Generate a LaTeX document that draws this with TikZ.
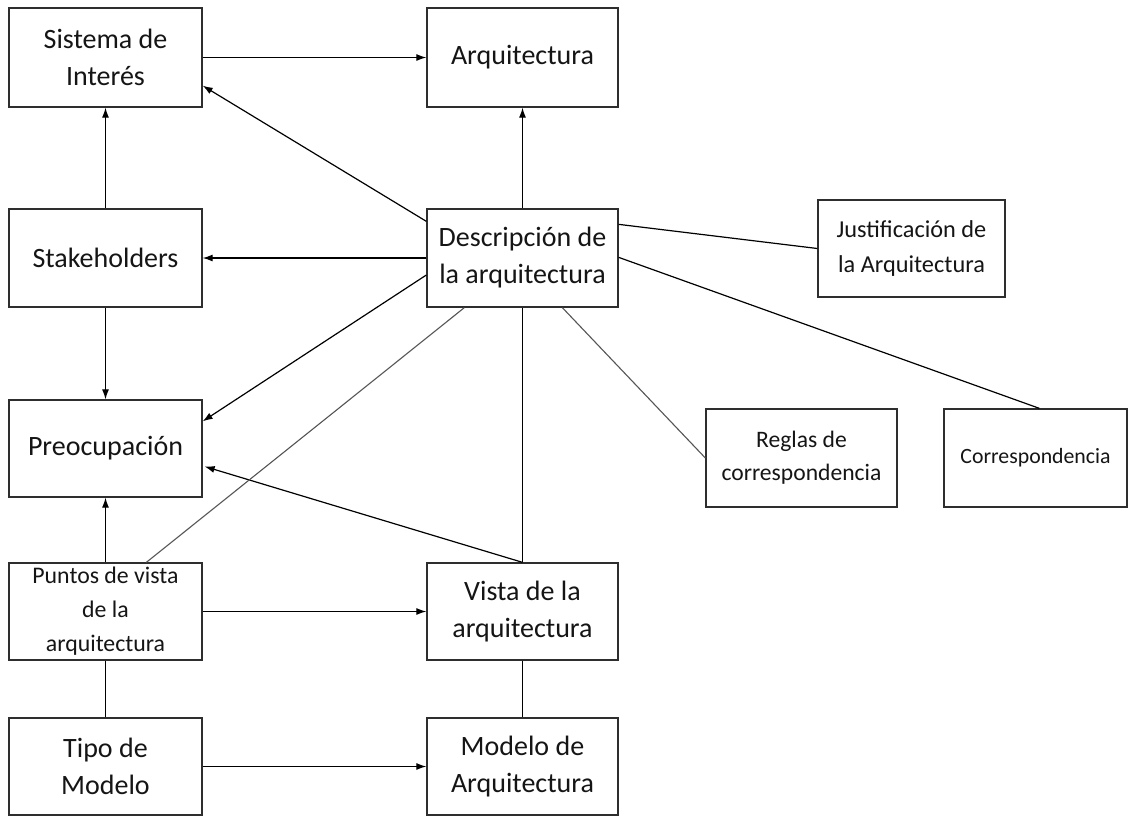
\documentclass[tikz,border=0pt]{standalone}
\usepackage{fontspec}
\setmainfont{Carlito}
\usetikzlibrary{arrows.meta,calc}
\definecolor{ink}{HTML}{151515}
\definecolor{edge}{HTML}{2E2E2E}
\definecolor{thin}{HTML}{555555}
\begin{document}
\begin{tikzpicture}[x=1pt,y=-1pt,
  box/.style={draw=edge,line width=1.3pt,rectangle,inner sep=0pt,align=center,
    text=ink,font=\fontsize{28}{37}\selectfont},
  smallbox/.style={box,font=\fontsize{23.8}{34}\selectfont},
  arr/.style={line width=1.2pt,-{Latex[length=10pt,width=7pt]}},
  link/.style={line width=1.2pt},
  faint/.style={line width=1.1pt,draw=thin}]
\useasboundingbox[fill=white] (0,0) rectangle (1128,817);

% boxes
\node[box,minimum width=193pt,minimum height=99pt] (sis) at (105.5,57.5) {Sistema de\\Interés};
\node[box,minimum width=191pt,minimum height=99pt] (arq) at (522.5,57.5) {Arquitectura};
\node[box,minimum width=193pt,minimum height=98pt] (stk) at (105.5,258) {Stakeholders};
\node[box,minimum width=191pt,minimum height=98pt] (desc) at (522.5,258) {Descripción de\\la arquitectura};
\node[smallbox,minimum width=187pt,minimum height=97pt,font=\fontsize{24.3}{35}\selectfont] (just) at (911.5,248.5) {Justificación de\\la Arquitectura};
\node[box,minimum width=193pt,minimum height=97pt] (pre) at (105.5,448.5) {Preocupación};
\node[smallbox,minimum width=191pt,minimum height=98pt,font=\fontsize{23.6}{33}\selectfont] (reg) at (801.5,458) {Reglas de\\correspondencia};
\node[smallbox,minimum width=183pt,minimum height=98pt,font=\fontsize{21.8}{30}\selectfont] (corr) at (1035.5,458) {Correspondencia};
\node[smallbox,minimum width=193pt,minimum height=97pt] (pun) at (105.5,611.5) {Puntos de vista\\de la\\arquitectura};
\node[box,minimum width=191pt,minimum height=97pt] (vis) at (522.5,611.5) {Vista de la\\arquitectura};
\node[box,minimum width=193pt,minimum height=97pt] (tipo) at (105.5,766.5) {Tipo de\\Modelo};
\node[box,minimum width=191pt,minimum height=97pt] (mod) at (522.5,766.5) {Modelo de\\Arquitectura};

% arrows
\draw[arr] (sis.east) -- (arq.west);
\draw[arr] ($(desc.north west)+(0,13)$) -- ($(sis.south east)+(0,-22)$);
\draw[arr] (desc.north) -- (arq.south);
\draw[arr] (stk.north) -- (sis.south);
\draw[arr] (desc.west) -- (stk.east);
\draw[arr] (stk.south) -- (pre.north);
\draw[arr] ($(desc.west)+(0,17)$) -- ($(pre.north east)+(0,22)$);
\draw[arr] (vis.north) -- ($(pre.east)+(2,18)$);
\draw[arr] (pun.north) -- (pre.south);
\draw[arr] (pun.east) -- (vis.west);
\draw[arr] (tipo.east) -- (mod.west);

% plain links
\draw[faint] ($(desc.south west)+(38,0)$) -- ($(pun.north west)+(138,0)$);
\draw[link] (desc.south) -- (vis.north);
\draw[faint] ($(desc.south west)+(136,0)$) -- (reg.west);
\draw[link] ($(desc.north east)+(0,49)$) -- ($(corr.north west)+(96,0)$);
\draw[link] ($(desc.north east)+(0,16)$) -- (just.west);
\draw[link] (pun.south) -- (tipo.north);
\draw[link] (vis.south) -- (mod.north);
\end{tikzpicture}
\end{document}
